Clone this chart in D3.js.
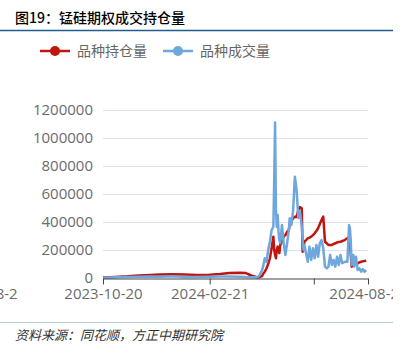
<!DOCTYPE html>
<html>
<head>
<meta charset="utf-8">
<script src="https://cdn.jsdelivr.net/npm/d3@7"></script>
<style>
  body { margin: 0; background: #fff; }
  text { font-family: "Open Sans", "Noto Sans CJK SC", sans-serif; }
  .cjk { font-family: "Noto Sans CJK SC", sans-serif; }
</style>
</head>
<body>
<div id="chart"></div>
<script>
// 交易日期 (稀疏读取)
var dates = [
  "2023-10-20","2023-11-03","2023-11-17","2023-12-01","2023-12-14","2023-12-25","2024-01-09","2024-01-23",
  "2024-02-06","2024-02-21","2024-03-04","2024-03-15","2024-03-27","2024-04-03","2024-04-10","2024-04-15",
  "2024-04-17","2024-04-19","2024-04-22","2024-04-23","2024-04-25","2024-04-27","2024-04-29",
  "2024-05-01","2024-05-03","2024-05-05","2024-05-06","2024-05-07","2024-05-08","2024-05-09","2024-05-10",
  "2024-05-11","2024-05-12","2024-05-13","2024-05-15","2024-05-17","2024-05-19","2024-05-21","2024-05-23",
  "2024-05-24","2024-05-26","2024-05-28","2024-05-30",
  "2024-06-01","2024-06-03","2024-06-05","2024-06-07","2024-06-08","2024-06-09","2024-06-10","2024-06-12",
  "2024-06-14","2024-06-16","2024-06-18","2024-06-20","2024-06-22","2024-06-24","2024-06-26","2024-06-28","2024-06-30",
  "2024-07-02","2024-07-04","2024-07-06","2024-07-08","2024-07-10","2024-07-12","2024-07-14","2024-07-16",
  "2024-07-18","2024-07-20","2024-07-22","2024-07-24","2024-07-27","2024-07-30",
  "2024-08-01","2024-08-02","2024-08-03","2024-08-04","2024-08-06","2024-08-07","2024-08-09","2024-08-11",
  "2024-08-13","2024-08-15","2024-08-17","2024-08-19","2024-08-21"
];

// 品种持仓量
var openInterest = [
  3000, 8000, 12000, 18000, 21000, 25000, 27000, 25000,
  22000, 23000, 28000, 35000, 37000, 35000, 16000, 7000,
  4000, 7000, 14000, 29000, 45000, 68000, 100000,
  141000, 212000, 295000, 200000, 164000, 141000, 200000, 224000,
  200000, 178000, 236000, 259000, 295000, 307000, 329000, 343000,
  386000, 407000, 426000, 438000,
  436000, 486000, 507000, 498000, 188000, 200000, 259000, 271000,
  284000, 289000, 295000, 307000, 319000, 336000, 355000, 386000, 414000,
  438000, 259000, 248000, 236000, 236000, 236000, 243000, 248000,
  254000, 257000, 259000, 264000, 271000, 284000,
  284000, 284000, 164000, 81000, 86000, 93000, 100000, 105000,
  111000, 116000, 119000, 121000, 124000
];

// 品种成交量
var volume = [
  2000, 6000, 7000, 9000, 11000, 9000, 12000, 8000,
  7000, 9000, 10000, 11000, 9000, 7000, 6000, 6000,
  8000, 21000, 57000, 81000, 141000, 114000, 200000,
  259000, 343000, 366000, 700000, 1110000, 486000, 366000, 450000,
  331000, 271000, 250000, 379000, 248000, 164000, 248000, 343000,
  426000, 379000, 486000, 724000,
  629000, 429000, 470000, 371000, 271000, 200000, 236000, 176000,
  116000, 224000, 129000, 212000, 141000, 236000, 152000, 248000, 271000,
  212000, 81000, 69000, 81000, 164000, 93000, 129000, 81000,
  152000, 93000, 164000, 105000, 116000, 116000,
  379000, 355000, 259000, 93000, 164000, 81000, 152000, 57000,
  69000, 45000, 64000, 45000, 57000
];

var seriesNames = ["品种持仓量", "品种成交量"];
var seriesColors = ["#c0150f", "#6ea7dd"];

var yTicks = [0, 200000, 400000, 600000, 800000, 1000000, 1200000];
var xTickDates = ["2023-06-19", "2023-10-20", "2024-02-21", "2024-06-21", "2024-08-23"];
var xTickLabels = ["2023-08-2", "2023-10-20", "2024-02-21", "", "2024-08-23"];

var title = "图19：锰硅期权成交持仓量";
var source = "资料来源：同花顺，方正中期研究院";

document.addEventListener('DOMContentLoaded', function () {
  drawChart();
});

function drawChart() {
  var width = 406;
  var height = 354;
  var parse = d3.timeParse("%Y-%m-%d");

  var svg = d3.select("#chart")
              .append("svg")
              .attr("width", width)
              .attr("height", height);

  svg.append("defs").append("clipPath")
     .attr("id", "pageClip")
     .append("rect")
     .attr("x", 0).attr("y", 0)
     .attr("width", 393).attr("height", height);

  var g = svg.append("g").attr("clip-path", "url(#pageClip)");

  // 标题
  g.append("text")
   .attr("class", "cjk")
   .attr("x", 15)
   .attr("y", 23)
   .style("font-size", "14px")
   .style("font-weight", "500")
   .style("fill", "#000")
   .text(title);

  g.append("line")
   .attr("x1", 0).attr("x2", 393)
   .attr("y1", 30.5).attr("y2", 30.5)
   .style("stroke", "#1f5f8f")
   .style("stroke-width", 1.5);

  // 图例
  var legendX = [40, 163];
  seriesNames.forEach(function (name, i) {
    var lg = g.append("g").attr("transform", "translate(" + legendX[i] + ",51)");
    lg.append("line")
      .attr("x1", 0).attr("x2", 30)
      .attr("y1", 0).attr("y2", 0)
      .style("stroke", seriesColors[i])
      .style("stroke-width", 2.5);
    lg.append("circle")
      .attr("cx", 15).attr("cy", 0).attr("r", 5)
      .style("fill", seriesColors[i]);
    lg.append("text")
      .attr("class", "cjk")
      .attr("x", 37)
      .attr("y", 5)
      .style("font-size", "14px")
      .style("fill", "#666")
      .text(name);
  });

  // 坐标
  var xScale = d3.scaleTime()
                 .domain([parse("2023-10-20"), parse("2024-08-23")])
                 .range([103, 368]);

  var yScale = d3.scaleLinear()
                 .domain([0, 1200000])
                 .range([278, 110]);

  // 网格
  g.append("g")
   .selectAll("line")
   .data(yTicks.slice(1))
   .enter()
   .append("line")
   .attr("x1", 103).attr("x2", 368)
   .attr("y1", function (d) { return yScale(d) + 0.5; })
   .attr("y2", function (d) { return yScale(d) + 0.5; })
   .style("stroke", "#dde1ee")
   .style("stroke-width", 1);

  // y轴 text
  var yAxis = g.append("g")
               .attr("transform", "translate(103,0)")
               .call(d3.axisLeft(yScale)
                       .tickValues(yTicks)
                       .tickSize(0)
                       .tickPadding(10)
                       .tickFormat(function (d) { return String(d); }));
  yAxis.select(".domain").remove();
  yAxis.selectAll("text")
       .style("font-size", "15px")
       .style("font-family", "'Open Sans', sans-serif")
       .style("fill", "#6b6b6b");

  // 线
  var line = d3.line()
               .x(function (d, i) { return xScale(parse(dates[i])); })
               .y(function (d) { return yScale(d); });

  [openInterest, volume].forEach(function (values, i) {
    g.append("path")
     .datum(values)
     .attr("d", line)
     .style("fill", "none")
     .style("stroke", seriesColors[i])
     .style("stroke-width", 2.5)
     .style("stroke-linejoin", "round");
  });

  // x轴
  var xAxis = g.append("g")
               .attr("transform", "translate(0,278.5)")
               .call(d3.axisBottom(xScale)
                       .tickValues(xTickDates.map(parse))
                       .tickSize(6)
                       .tickSizeOuter(0)
                       .tickPadding(4)
                       .tickFormat(function (d, i) { return xTickLabels[i]; }));
  xAxis.select(".domain").style("stroke", "#444");
  xAxis.selectAll(".tick line").style("stroke", "#444");
  xAxis.selectAll("text")
       .style("font-size", "15px")
       .style("font-family", "'Open Sans', sans-serif")
       .style("fill", "#6b6b6b");
  // 左端被截断的标签
  xAxis.selectAll("text")
       .filter(function (d, i) { return i === 0; })
       .attr("text-anchor", "end")
       .attr("dx", 20);

  // 资料来源
  g.append("line")
   .attr("x1", 0).attr("x2", 393)
   .attr("y1", 322.5).attr("y2", 322.5)
   .style("stroke", "#b7c8d8")
   .style("stroke-width", 1);

  g.append("text")
   .attr("class", "cjk")
   .attr("x", 15)
   .attr("y", 340)
   .style("font-size", "13px")
   .style("font-style", "italic")
   .style("fill", "#333")
   .text(source);
}
</script>
</body>
</html>
